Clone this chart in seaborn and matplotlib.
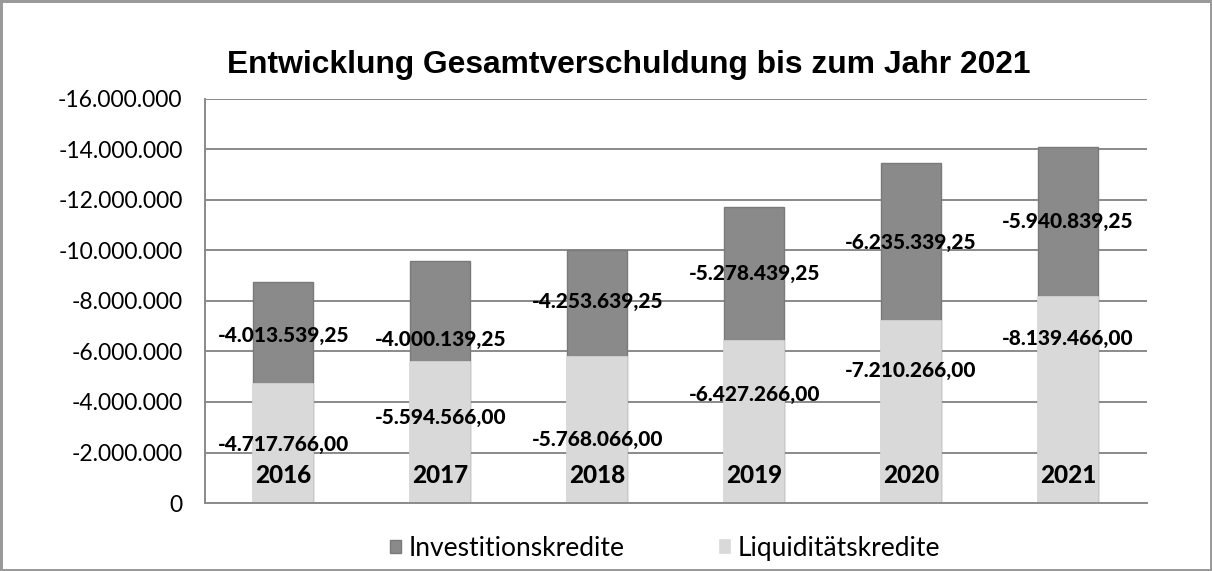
import matplotlib
matplotlib.use("Agg")
import matplotlib.pyplot as plt
import seaborn as sns
import numpy as np

# data
years = ["2016", "2017", "2018", "2019", "2020", "2021"]
liquiditaet = [4717766.00, 5594566.00, 5768066.00, 6427266.00, 7210266.00, 8139466.00]
investition = [4013539.25, 4000139.25, 4253639.25, 5278439.25, 6235339.25, 5940839.25]

# where the data labels sit (in millions, as placed in the original)
label_pos_liq = [2.3, 3.37, 2.53, 4.28, 5.23, 6.53]
label_pos_inv = [6.65, 6.46, 7.96, 9.1, 10.3, 11.13]

dark = "#8a8a8a"
light = "#d9d9d9"
grid_c = "#8a8a8a"

sns.set_style("white")
plt.rcParams["font.family"] = ["Lato", "DejaVu Sans"]
plt.rcParams["text.color"] = "black"
plt.rcParams["ytick.color"] = "black"

fig = plt.figure(figsize=(12.12, 5.71), dpi=100)
fig.patch.set_edgecolor("#9a9a9a")
fig.patch.set_linewidth(2.5)
ax = fig.add_axes([0.169, 0.119, 0.777, 0.708])

liq = np.array(liquiditaet)
inv = np.array(investition)
total = liq + inv

# stacked bars: total first (dark), liquidity on top (light)
sns.barplot(x=years, y=-total, color=dark, saturation=1, width=0.38,
            edgecolor="#7a7a7a", linewidth=1, label="Investitionskredite", ax=ax)
sns.barplot(x=years, y=-liq, color=light, saturation=1, width=0.38,
            edgecolor=light, linewidth=1.2, label="Liquiditätskredite", ax=ax)

ax.set_ylim(0, -16e6)
ax.set_xlim(-0.5, len(years) - 0.5)
ax.set_yticks(np.arange(0, -16e6 - 1, -2e6))
ax.set_yticklabels([f"{int(v):,}".replace(",", ".") for v in ax.get_yticks()], fontsize=16.5)
ax.yaxis.grid(True, color=grid_c, linewidth=1.4)
ax.set_axisbelow(True)
ax.tick_params(axis="y", length=0, pad=16)

ax.set_xticks(np.arange(len(years)) + 0.5, minor=True)
ax.set_xticks([])
ax.tick_params(axis="x", which="minor", length=5, color="#aaaaaa", direction="out")
ax.set_xlabel("")
ax.set_ylabel("")

for s in ["top", "right"]:
    ax.spines[s].set_visible(False)
ax.spines["left"].set_color(grid_c)
ax.spines["left"].set_linewidth(1.4)
ax.spines["bottom"].set_color(grid_c)
ax.spines["bottom"].set_linewidth(1.4)


def de(v):
    return f"{v:,.2f}".replace(",", "X").replace(".", ",").replace("X", ".")


for i, yr in enumerate(years):
    ax.text(i, -label_pos_inv[i] * 1e6, de(-inv[i]), ha="center", va="center",
            fontsize=15, fontweight=900, zorder=5)
    ax.text(i, -label_pos_liq[i] * 1e6, de(-liq[i]), ha="center", va="center",
            fontsize=15, fontweight=900, zorder=5)
    ax.text(i, 0.068, yr, ha="center", va="center", fontsize=17.5, fontweight=900,
            transform=ax.get_xaxis_transform(), zorder=5)

fig.suptitle("Entwicklung Gesamtverschuldung bis zum Jahr 2021", x=0.519, y=0.912,
             fontsize=22.9, fontweight="bold", family=["Liberation Sans", "DejaVu Sans"])

handles, labels = ax.get_legend_handles_labels()
if ax.legend_:
    ax.legend_.remove()
fig.legend(handles, labels, loc="center", bbox_to_anchor=(0.549, 0.04), ncol=2,
           frameon=False, fontsize=19, handlelength=0.4, handleheight=0.4,
           handletextpad=0.3, columnspacing=3.6)

fig.savefig("out.png", dpi=100)
